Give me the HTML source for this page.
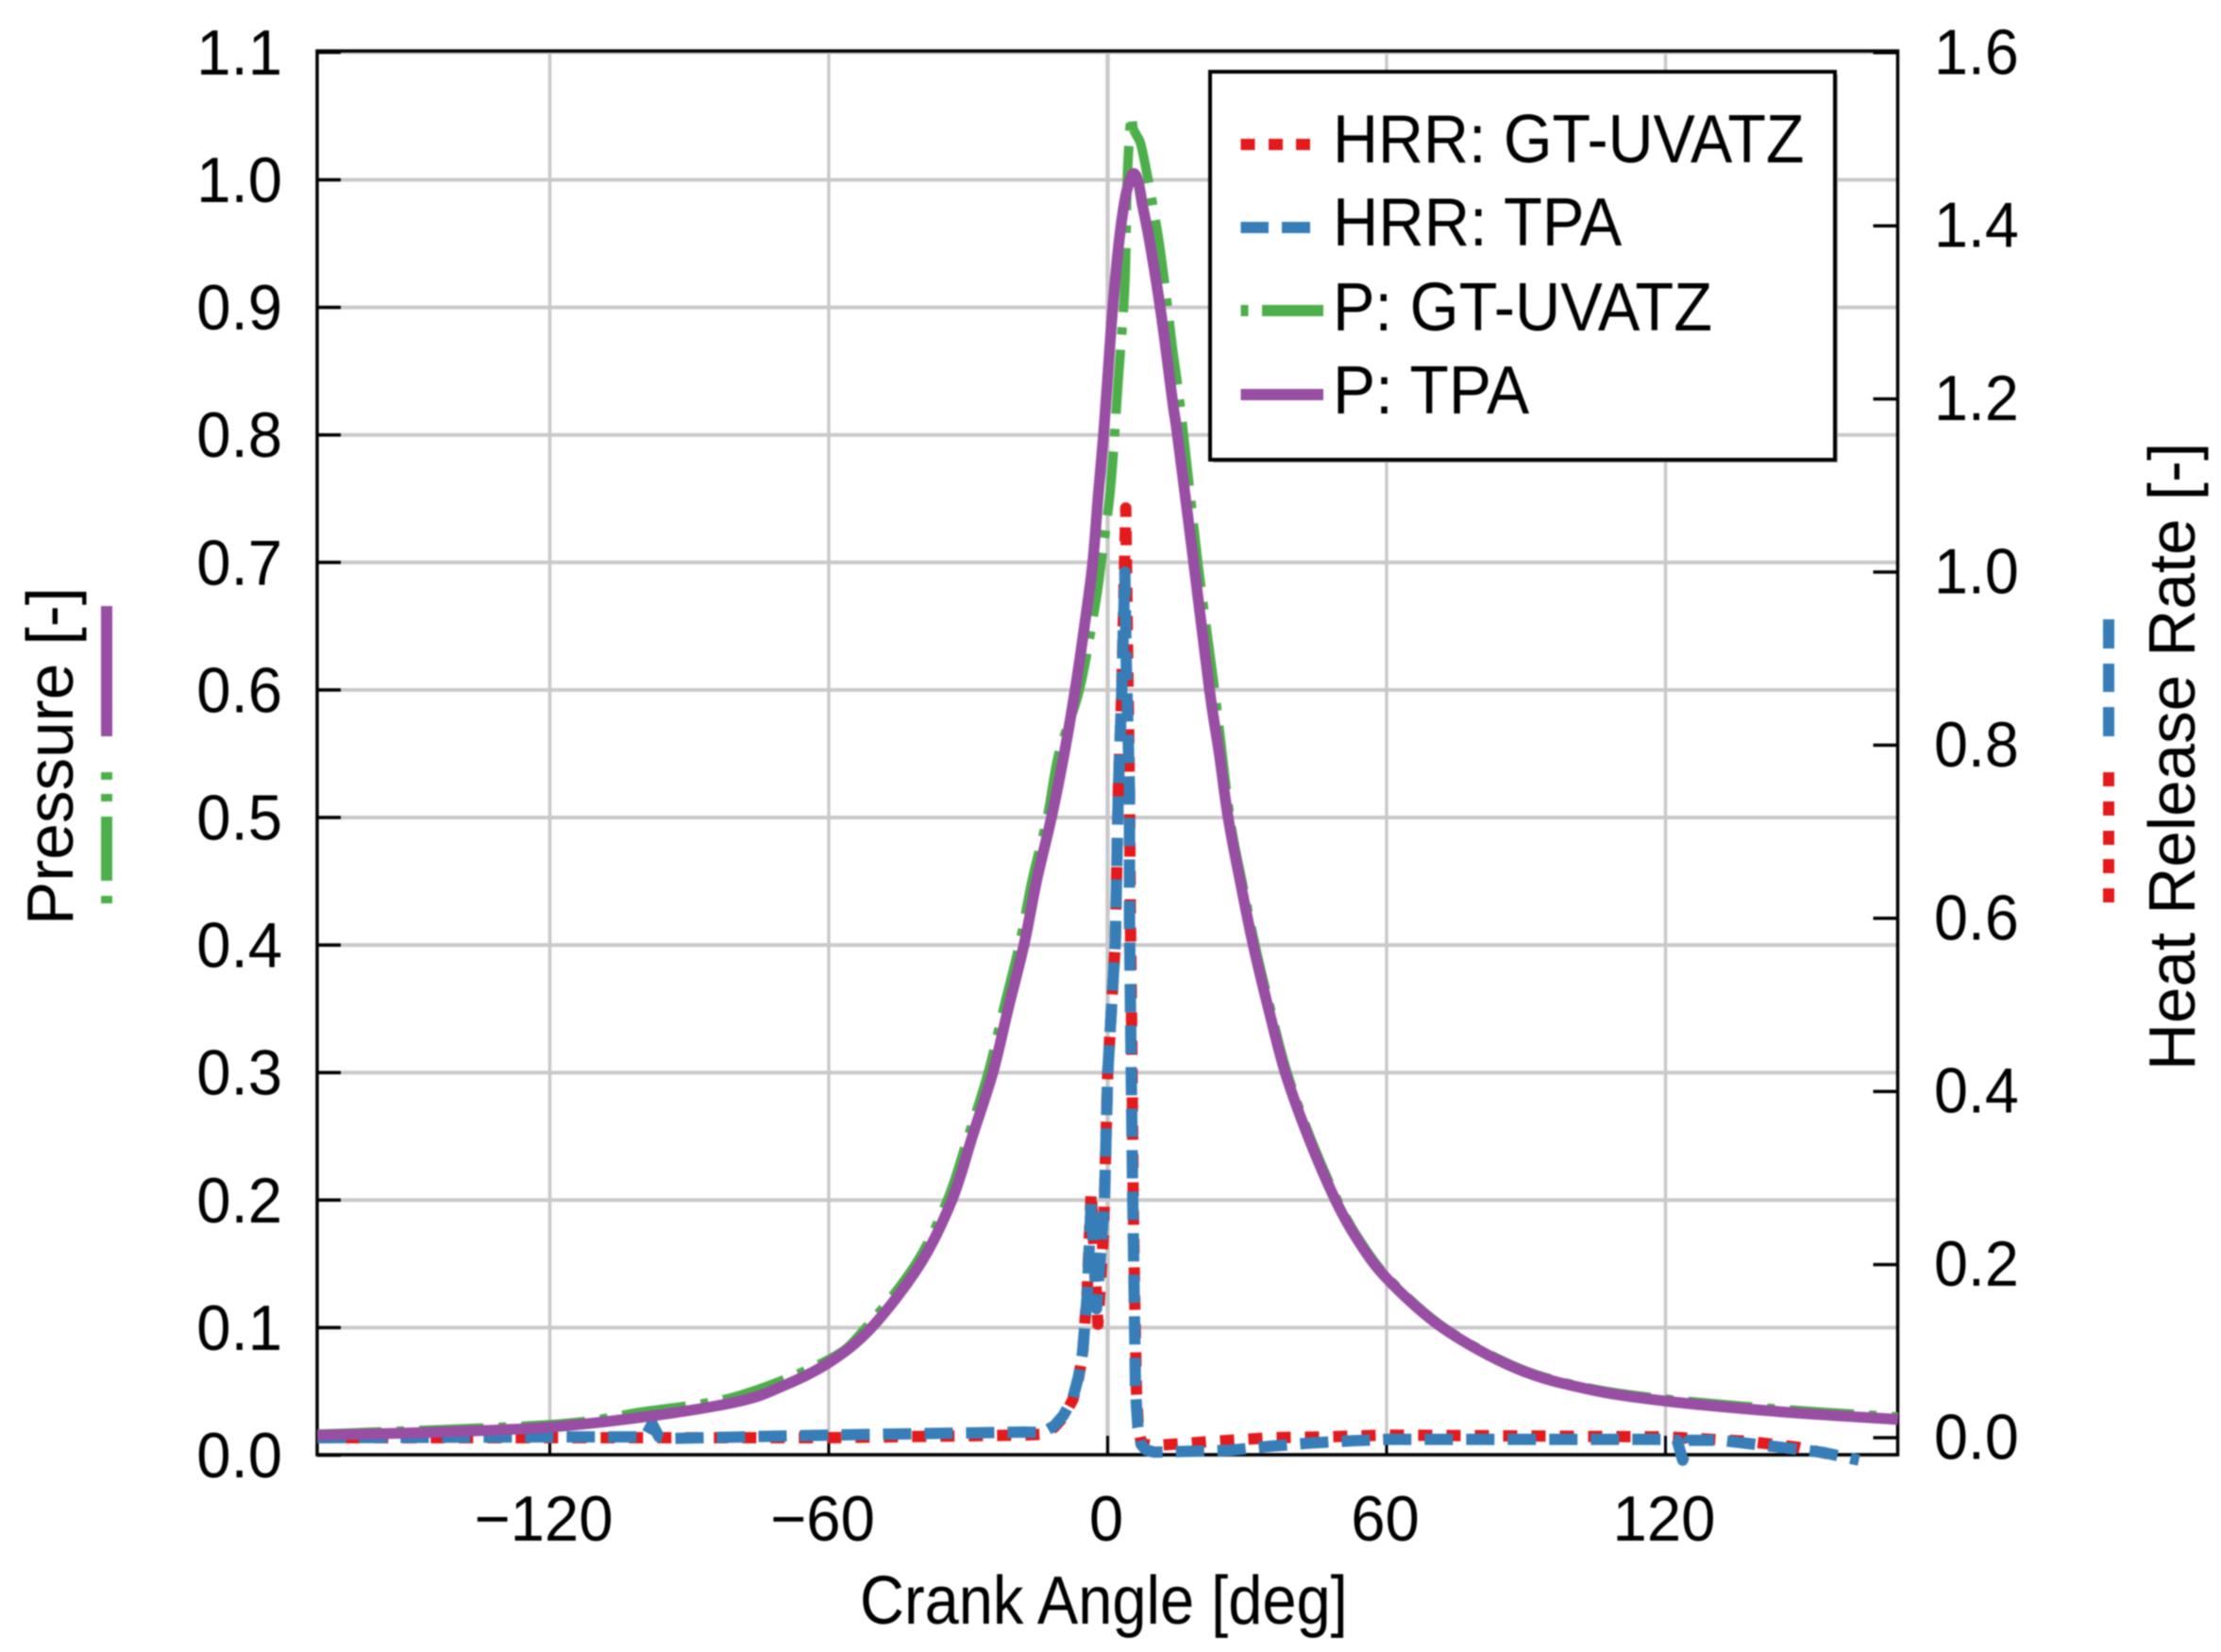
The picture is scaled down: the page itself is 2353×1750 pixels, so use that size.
<!DOCTYPE html>
<html lang="en">
<head>
<meta charset="utf-8">
<title>Pressure and Heat Release Rate vs Crank Angle</title>
<style>
html,body{margin:0;padding:0;background:#fff;width:2353px;height:1750px;overflow:hidden}
svg{display:block;filter:blur(0.7px)}
text{font-family:"Liberation Sans",Arial,sans-serif;fill:#000}
</style>
</head>
<body>
<svg id="chart" xmlns="http://www.w3.org/2000/svg" width="2353" height="1750" viewBox="0 0 2353 1750">
<rect width="2353" height="1750" fill="#fff"/>
<g id="grid"></g>
<g id="frame"></g>
<g id="series"></g>
<g id="labels"></g>

<text transform="translate(911,1720) scale(.903,1)" font-size="72">Crank Angle [deg]</text>
<text transform="translate(77,980) rotate(-90)" font-size="69.3">Pressure [-]</text>
<text transform="translate(2325,1134) rotate(-90)" font-size="69.2">Heat Release Rate [-]</text>

<g>
<rect x="107" y="642" width="12" height="138" fill="#984ea3"/>
<rect x="107" y="818" width="12" height="8" fill="#4daf4a"/>
<rect x="107" y="841" width="12" height="8" fill="#4daf4a"/>
<rect x="107" y="865" width="12" height="68" fill="#4daf4a"/>
<rect x="107" y="949" width="12" height="8" fill="#4daf4a"/>
</g>
<g>
<rect x="2228" y="656" width="12" height="31" fill="#377eb8"/>
<rect x="2228" y="703" width="12" height="30" fill="#377eb8"/>
<rect x="2228" y="749" width="12" height="31" fill="#377eb8"/>
<rect x="2228" y="818" width="12" height="15" fill="#e41a1c"/>
<rect x="2228" y="849" width="12" height="15" fill="#e41a1c"/>
<rect x="2228" y="880" width="12" height="15" fill="#e41a1c"/>
<rect x="2228" y="910" width="12" height="15" fill="#e41a1c"/>
<rect x="2228" y="941" width="12" height="15" fill="#e41a1c"/>
</g>

<g>
<rect x="1285" y="79" width="662" height="411" fill="#aaa"/>
<rect x="1282" y="76" width="662" height="411" fill="#fff" stroke="#000" stroke-width="4"/>
<g>
<rect x="1314.5" y="147" width="15" height="12" fill="#e41a1c"/>
<rect x="1344" y="147" width="15" height="12" fill="#e41a1c"/>
<rect x="1373" y="147" width="15" height="12" fill="#e41a1c"/>
<text transform="translate(1412,172) scale(.923,1)" font-size="72">HRR: GT-UVATZ</text>
</g>
<g>
<rect x="1314.5" y="235" width="29.5" height="12" fill="#377eb8"/>
<rect x="1358" y="235" width="30" height="12" fill="#377eb8"/>
<text transform="translate(1412,260) scale(.93,1)" font-size="72">HRR: TPA</text>
</g>
<g>
<rect x="1314.5" y="323" width="8" height="12" fill="#4daf4a"/>
<rect x="1337" y="323" width="65" height="12" fill="#4daf4a"/>
<text transform="translate(1412,350) scale(.928,1)" font-size="72">P: GT-UVATZ</text>
</g>
<g>
<rect x="1314.5" y="412" width="87.5" height="12" fill="#984ea3"/>
<text transform="translate(1412,438) scale(.94,1)" font-size="72">P: TPA</text>
</g>
</g>
</svg>
<script>
const xTicks = [-120, -60, 0, 60, 120];
const xTickLabels = ['\u2212120', '\u221260', '0', '60', '120'];
const leftTicks = [0, 0.1, 0.2, 0.3, 0.4, 0.5, 0.6, 0.7, 0.8, 0.9, 1.0, 1.1];
const leftTickLabels = ['0.0', '0.1', '0.2', '0.3', '0.4', '0.5', '0.6', '0.7', '0.8', '0.9', '1.0', '1.1'];
const rightTicks = [0, 0.2, 0.4, 0.6, 0.8, 1.0, 1.2, 1.4, 1.6];
const rightTickLabels = ['0.0', '0.2', '0.4', '0.6', '0.8', '1.0', '1.2', '1.4', '1.6'];

const pTpaAngle = [-170, -145, -120, -97, -79, -70, -60, -50.8, -40.3, -33.5, -29.1, -24.7, -21.4, -18, -15.3, -12.1, -9.4, -7, -5, -3.2, -2.1, -0.9, 0.1, 1.1, 2.4, 3.6, 4.6, 5.6, 6.6, 7.5, 9.1, 11.5, 14, 15, 18.5, 21.9, 24, 25.9, 28.5, 31.3, 34.6, 38.2, 43.1, 49, 53.9, 60.2, 72, 87.9, 103, 120, 145, 170];
const pTpaValue = [0.0157, 0.018, 0.022, 0.0313, 0.0425, 0.054, 0.0725, 0.1, 0.15, 0.2, 0.25, 0.3, 0.35, 0.4, 0.45, 0.5, 0.549, 0.6, 0.65, 0.7, 0.75, 0.8, 0.85, 0.9, 0.95, 0.982, 0.998, 1.005, 0.998, 0.98, 0.95, 0.895, 0.825, 0.8, 0.7, 0.6, 0.55, 0.5, 0.45, 0.4, 0.35, 0.3, 0.25, 0.2, 0.168, 0.138, 0.1, 0.068, 0.052, 0.0424, 0.034, 0.028];

const pGtAngle = [-170, -120, -100, -80, -60, -52, -41.3, -34.5, -30, -25.7, -22.4, -19, -16.3, -13, -10.5, -6.1, -2.7, -1.4, 0.65, 2.3, 3.7, 4.2, 5, 5.5, 6.2, 7.4, 9.9, 11.3, 13, 14, 15.7, 19.4, 23, 26.3, 28.9, 31.7, 35, 38.6, 43.5, 49.4, 54.3, 60.6, 72.4, 88, 103, 120, 145, 170];
const pGtValue = [0.0165, 0.024, 0.034, 0.046, 0.075, 0.1, 0.15, 0.2, 0.25, 0.3, 0.35, 0.4, 0.45, 0.5, 0.55, 0.6, 0.666, 0.7, 0.76, 0.844, 0.918, 1.0, 1.049, 1.04, 1.035, 1.024, 0.976, 0.945, 0.897, 0.866, 0.82, 0.7, 0.6, 0.5, 0.45, 0.4, 0.35, 0.3, 0.25, 0.2, 0.168, 0.138, 0.1, 0.069, 0.053, 0.044, 0.036, 0.03];

const hrrTpaAngle = [-170, -120, -101, -99.5, -98, -96.5, -95, -60, -18, -14, -11.5, -9.5, -7.5, -6.3, -5.4, -4.4, -3.55, -2.4, -0.7, 0, 1.65, 2.3, 3, 3.7, 4, 4.7, 4.7, 5, 5.4, 5.7, 6, 6.5, 7.2, 8.2, 10, 26.3, 35, 44, 52.7, 60, 93.4, 120, 122.5, 123.7, 125, 131.9, 142.8, 153.9, 161.6];
const hrrTpaValue = [0, 0.001, 0.001, 0.001, 0.016, 0.001, -0.001, 0.003, 0.0065, 0.006, 0.0137, 0.026, 0.046, 0.07, 0.098, 0.164, 0.273, 0.149, 0.273, 0.42, 0.573, 0.748, 0.858, 1.0, 0.895, 0.748, 0.6, 0.456, 0.273, 0.164, 0.054, 0.012, -0.008, -0.014, -0.0167, -0.0145, -0.0098, -0.006, -0.0036, -0.002, -0.002, -0.002, -0.003, -0.026, -0.003, -0.003, -0.0098, -0.017, -0.026];

const hrrGtAngle = [-170, -60, -18, -14, -11.5, -9.5, -7.5, -6.3, -5.4, -4.4, -3.55, -2.1, -0.9, 0, 1.65, 2.3, 3, 3.9, 4.3, 4.7, 4.9, 5.2, 5.5, 5.8, 6.2, 6.6, 7.2, 8.2, 10, 23, 35, 47, 60, 120, 137.4, 148.4, 156];
const hrrGtValue = [0, 0, 0.003, 0.004, 0.012, 0.024, 0.044, 0.068, 0.096, 0.17, 0.284, 0.131, 0.237, 0.42, 0.573, 0.748, 0.858, 1.074, 0.9, 0.748, 0.6, 0.456, 0.273, 0.164, 0.054, 0.012, -0.005, -0.008, -0.009, -0.004, 0, 0.001, 0.003, 0.001, -0.004, -0.011, -0.02];

const plotLeft = 336, plotRight = 2010.5, plotTop = 54, plotBottom = 1541;
function xScale(deg) { return 1173.5 + deg * 4.925; }
function yLeft(v) { return 1541.5 - v * 1351; }
function yRight(v) { return 1523 - v * 917; }

const NS = 'http://www.w3.org/2000/svg';
function make(tag, parent, attrs) {
  const el = document.createElementNS(NS, tag);
  for (const k in attrs) el.setAttribute(k, attrs[k]);
  parent.appendChild(el);
  return el;
}
const grid = document.getElementById('grid');
const frame = document.getElementById('frame');
const series = document.getElementById('series');
const labels = document.getElementById('labels');

xTicks.forEach(function (t, i) {
  const gl = make('line', grid, { x1: xScale(t), x2: xScale(t), y1: plotTop, y2: plotBottom, stroke: '#c9c9c9', 'stroke-width': t === 0 ? 4.5 : 3.5 });
  
  
  const tk = make('line', frame, { x1: xScale(t), x2: xScale(t), y1: plotBottom - 20, y2: plotBottom, stroke: '#000', 'stroke-width': 3 });
  
  
  const lb = make('text', labels, { 'text-anchor': 'middle', 'font-size': 68, transform: 'translate(' + (xScale(t) + (t < 0 ? -6.5 : -1.5)) + ',1632) scale(.96,1)' });
  
  
  lb.textContent = xTickLabels[i];
});

leftTicks.forEach(function (t, i) {
  const gl = make('line', grid, { x1: plotLeft, x2: plotRight, y1: yLeft(t), y2: yLeft(t), stroke: '#c9c9c9', 'stroke-width': 4 });
  
  
  const tk = make('line', frame, { x1: plotLeft, x2: plotLeft + 25, y1: yLeft(t), y2: yLeft(t), stroke: '#000', 'stroke-width': 3.5 });
  
  
  const lb = make('text', labels, { 'text-anchor': 'end', 'font-size': 68, transform: 'translate(299,' + (yLeft(t) + 23.5) + ') scale(.96,1)' });
  
  
  lb.textContent = leftTickLabels[i];
});

rightTicks.forEach(function (t, i) {
  const tk = make('line', frame, { x1: plotRight - 26, x2: plotRight, y1: yRight(t), y2: yRight(t), stroke: '#000', 'stroke-width': 3.5 });
  
  
  const lb = make('text', labels, { 'font-size': 68, transform: 'translate(2049,' + (yRight(t) + 22.5) + ') scale(.95,1)' });
  
  
  lb.textContent = rightTickLabels[i];
});

const box = make('rect', frame, { x: plotLeft, y: plotTop, width: plotRight - plotLeft, height: plotBottom - plotTop, fill: 'none', stroke: '#000', 'stroke-width': 3.5 });



function pts(angles, values, yFn) {
  return angles.map(function (a, i) { return xScale(a).toFixed(1) + ',' + yFn(values[i]).toFixed(1); }).join(' ');
}
function smoothPath(angles, values, yFn) {
  const p = angles.map(function (a, i) { return [xScale(a), yFn(values[i])]; });
  let d = 'M' + p[0][0].toFixed(1) + ' ' + p[0][1].toFixed(1);
  for (let i = 0; i < p.length - 1; i++) {
    const p0 = p[Math.max(0, i - 1)], p1 = p[i], p2 = p[i + 1], p3 = p[Math.min(p.length - 1, i + 2)];
    const c1x = p1[0] + (p2[0] - p0[0]) / 6, c1y = p1[1] + (p2[1] - p0[1]) / 6;
    const c2x = p2[0] - (p3[0] - p1[0]) / 6, c2y = p2[1] - (p3[1] - p1[1]) / 6;
    d += 'C' + c1x.toFixed(1) + ' ' + c1y.toFixed(1) + ' ' + c2x.toFixed(1) + ' ' + c2y.toFixed(1) + ' ' + p2[0].toFixed(1) + ' ' + p2[1].toFixed(1);
  }
  return d;
}
const lineRed = make('polyline', series, { points: pts(hrrGtAngle, hrrGtValue, yRight), fill: 'none', stroke: '#e41a1c', 'stroke-width': 12, 'stroke-dasharray': '15 15', 'stroke-linejoin': 'round' });


const lineBlue = make('polyline', series, { points: pts(hrrTpaAngle, hrrTpaValue, yRight), fill: 'none', stroke: '#377eb8', 'stroke-width': 12, 'stroke-dasharray': '30 14', 'stroke-linejoin': 'round' });


const lineGreen = make('path', series, { d: smoothPath(pGtAngle, pGtValue, yLeft), fill: 'none', stroke: '#4daf4a', 'stroke-width': 10, 'stroke-dasharray': '68 16 8 16', 'stroke-linejoin': 'round' });


const linePurple = make('path', series, { d: smoothPath(pTpaAngle, pTpaValue, yLeft), fill: 'none', stroke: '#984ea3', 'stroke-width': 11.5, 'stroke-linejoin': 'round' });


</script>
</body>
</html>
